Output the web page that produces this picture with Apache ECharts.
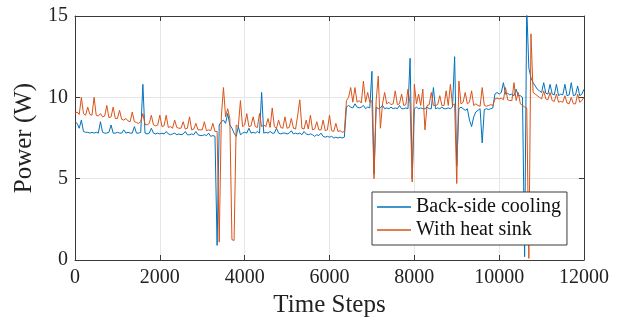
<!DOCTYPE html>
<html>
<head>
<meta charset="utf-8">
<script src="https://cdn.jsdelivr.net/npm/echarts@6/dist/echarts.min.js"></script>
<style>html,body{margin:0;padding:0;background:#fff}#c{width:626px;height:327px}</style>
</head>
<body>
<div id="c"></div>
<script>
// sample spacing in time steps
const STEP = 50;
const xTicks = [0, 2000, 4000, 6000, 8000, 10000, 12000];
const yTicks = [0, 5, 10, 15];
const seriesNames = ["Back-side cooling", "With heat sink"];

// Back-side cooling power (W), one value every STEP time steps
const backSideCooling = [
  8.5, 8.4, 8.1, 8.6, 7.9, 7.85, 7.85, 7.8, 7.85, 7.8,
  7.85, 7.8, 8.5, 7.85, 7.8, 7.8, 7.85, 8.3, 7.8, 7.8,
  7.85, 7.8, 7.8, 8.0, 7.8, 7.85, 7.8, 7.8, 8.2, 7.8,
  7.8, 7.85, 10.8, 7.8, 7.75, 7.8, 8.1, 7.8, 7.75, 7.8,
  7.75, 7.8, 7.75, 7.9, 7.75, 7.7, 7.75, 7.8, 7.7, 7.75,
  7.7, 7.75, 7.9, 7.7, 7.7, 7.75, 7.7, 7.9, 7.7, 7.65,
  7.65, 7.7, 7.65, 7.8, 7.6, 7.65, 7.6, 0.9, 8.3, 8.5,
  8.6, 8.4, 9.0, 8.3, 8.1, 7.8, 7.6, 8.2, 7.7, 7.8,
  7.85, 7.8, 8.1, 7.8, 7.85, 7.8, 7.9, 7.8, 10.3, 7.8,
  7.85, 7.8, 7.9, 7.8, 7.8, 8.1, 7.8, 7.75, 7.8, 7.8,
  7.75, 7.8, 7.95, 7.75, 7.8, 7.75, 7.8, 7.7, 7.9, 7.75,
  7.7, 7.75, 7.7, 7.6, 7.7, 7.65, 7.8, 7.6, 7.55, 7.6,
  7.55, 7.6, 7.5, 7.55, 7.5, 7.55, 7.5, 7.55, 9.4, 9.5,
  9.4, 9.35, 9.6, 9.4, 9.35, 9.4, 9.5, 9.3, 9.4, 9.35,
  11.6, 5.3, 9.4, 9.3, 9.35, 9.5, 9.3, 9.35, 9.3, 9.4,
  9.3, 9.35, 9.3, 9.5, 9.3, 9.3, 9.35, 9.3, 12.4, 5.0,
  9.3, 9.4, 9.3, 9.35, 9.3, 9.3, 9.4, 9.3, 9.3, 10.6,
  9.3, 9.35, 9.3, 9.4, 9.3, 9.3, 9.35, 9.3, 9.4, 12.5,
  5.8, 9.3, 9.4, 9.3, 9.2, 9.3, 8.6, 8.2, 8.8, 9.1,
  9.2, 9.3, 7.2, 9.25, 9.3, 9.25, 9.3, 9.35, 10.2, 10.3,
  10.2, 10.3, 10.9, 10.2, 10.25, 10.15, 10.2, 10.1, 10.5, 10.1,
  10.1, 10.0, 0.2, 15.5, 11.8, 11.2, 10.9, 10.7, 10.5, 10.4,
  10.3, 10.9, 10.25, 10.2, 10.8, 10.2, 10.15, 10.8, 10.1, 10.2,
  10.15, 10.8, 10.1, 10.15, 10.9, 10.1, 10.15, 10.7, 10.1, 10.2, 10.5
];

// With heat sink power (W), one value every STEP time steps
const withHeatSink = [
  9.0, 9.1, 8.95, 10.0, 9.0, 8.9, 9.4, 8.95, 8.9, 10.0,
  8.9, 8.85, 9.0, 8.8, 8.85, 9.5, 8.75, 8.8, 9.4, 8.7,
  8.7, 9.2, 8.65, 8.6, 8.7, 8.55, 8.5, 9.1, 8.5, 8.45,
  8.4, 8.5, 9.0, 8.35, 8.3, 8.4, 8.9, 8.3, 8.25, 8.3,
  8.9, 8.2, 8.25, 8.9, 8.15, 8.2, 8.1, 8.6, 8.15, 8.1,
  8.1, 8.5, 8.05, 8.1, 8.8, 8.0, 8.05, 8.4, 8.0, 8.0,
  8.0, 8.5, 7.95, 8.0, 7.95, 8.4, 7.9, 7.9, 1.1, 8.8,
  10.6, 8.8, 9.3, 8.7, 1.25, 1.2, 8.3, 8.2, 9.8, 8.2,
  8.3, 9.0, 8.2, 8.25, 8.8, 8.2, 8.15, 9.0, 8.2, 8.3,
  8.2, 8.7, 8.15, 9.35, 8.2, 8.1, 8.6, 8.15, 8.1, 8.8,
  8.1, 8.15, 8.7, 8.1, 8.05, 8.9, 9.85, 8.1, 8.05, 8.6,
  8.05, 8.9, 8.0, 8.05, 8.5, 8.0, 8.0, 8.6, 7.95, 8.0,
  8.9, 7.95, 7.9, 8.4, 7.9, 7.95, 7.85, 7.9, 9.8, 10.0,
  10.6, 9.7, 10.6, 9.7, 9.8, 9.65, 11.0, 9.7, 10.3, 9.7,
  9.8, 5.0, 9.8, 11.3, 8.1, 9.6, 10.3, 9.6, 9.7, 9.55,
  9.6, 10.4, 9.55, 9.6, 10.2, 9.5, 9.55, 10.5, 9.6, 4.8,
  10.8, 9.6, 10.2, 9.5, 10.5, 8.0, 9.5, 9.55, 10.3, 9.5,
  9.5, 9.55, 10.1, 9.5, 9.5, 10.4, 9.5, 10.8, 9.5, 9.6,
  4.7, 11.0, 9.6, 9.7, 10.3, 9.6, 9.7, 10.4, 9.5, 9.6,
  9.5, 9.45, 10.6, 9.5, 9.45, 9.5, 9.55, 9.5, 9.9, 9.95,
  9.9, 9.95, 9.85, 10.6, 9.85, 9.8, 9.8, 10.9, 9.8, 10.3,
  9.6, 9.5, 9.4, 9.35, 0.1, 13.9, 10.3, 10.2, 10.1, 10.0,
  9.9, 10.4, 9.9, 9.85, 10.3, 9.8, 9.75, 10.2, 9.7, 9.75,
  9.7, 10.1, 9.65, 9.6, 10.0, 9.6, 9.6, 10.2, 9.7, 9.8, 10.0
];

const FONT = "'Liberation Serif', 'DejaVu Serif', serif";
const toPairs = arr => arr.map((v, i) => [i * STEP, v]);

const xMin = xTicks[0], xMax = xTicks[xTicks.length - 1], xInt = xTicks[1] - xTicks[0];
const yMin = yTicks[0], yMax = yTicks[yTicks.length - 1], yInt = yTicks[1] - yTicks[0];

const axisCol = '#3a3a3a';
const gridCol = '#e6e6e6';

const chart = echarts.init(document.getElementById('c'), null, {renderer: 'canvas'});
chart.setOption({
  animation: false,
  backgroundColor: '#fff',
  grid: {left: 75, right: 42, top: 16, bottom: 67, containLabel: false},
  legend: {
    show: true,
    data: seriesNames,
    orient: 'vertical',
    left: 372, top: 192,
    padding: [5, 6, 5, 5],
    itemGap: 3,
    itemWidth: 34, itemHeight: 1.5,
    icon: 'rect',
    backgroundColor: '#fff',
    borderColor: '#3a3a3a', borderWidth: 1,
    textStyle: {fontFamily: FONT, fontSize: 20, color: '#111', lineHeight: 20}
  },
  xAxis: [{
    type: 'value', min: xMin, max: xMax, interval: xInt,
    name: 'Time Steps', nameLocation: 'middle', nameGap: 33,
    nameTextStyle: {fontFamily: FONT, fontSize: 25, color: '#222'},
    axisLine: {show: true, onZero: false, lineStyle: {color: axisCol, width: 1}},
    axisTick: {show: true, inside: true, length: 5, lineStyle: {color: axisCol}},
    axisLabel: {fontFamily: FONT, fontSize: 20, color: '#222', margin: 8, formatter: v => String(v)},
    splitLine: {show: true, lineStyle: {color: gridCol, width: 1}}
  }, {
    type: 'value', min: xMin, max: xMax, interval: xInt, position: 'top',
    axisLine: {show: true, onZero: false, lineStyle: {color: axisCol, width: 1}},
    axisTick: {show: true, inside: true, length: 5, lineStyle: {color: axisCol}},
    axisLabel: {show: false}, splitLine: {show: false}
  }],
  yAxis: [{
    type: 'value', min: yMin, max: yMax, interval: yInt,
    name: 'Power (W)', nameLocation: 'middle', nameGap: 35,
    nameTextStyle: {fontFamily: FONT, fontSize: 25, color: '#222'},
    axisLine: {show: true, onZero: false, lineStyle: {color: axisCol, width: 1}},
    axisTick: {show: true, inside: true, length: 5, lineStyle: {color: axisCol}},
    axisLabel: {fontFamily: FONT, fontSize: 20, color: '#222', margin: 7, formatter: v => String(v)},
    splitLine: {show: true, lineStyle: {color: gridCol, width: 1}}
  }, {
    type: 'value', min: yMin, max: yMax, interval: yInt, position: 'right',
    axisLine: {show: true, onZero: false, lineStyle: {color: axisCol, width: 1}},
    axisTick: {show: true, inside: true, length: 5, lineStyle: {color: axisCol}},
    axisLabel: {show: false}, splitLine: {show: false}
  }],
  series: [{
    name: seriesNames[0], type: 'line', data: toPairs(backSideCooling),
    xAxisIndex: 0, yAxisIndex: 0,
    showSymbol: false, symbol: 'none', clip: true,
    color: '#0072BD', lineStyle: {color: '#0072BD', width: 1}
  }, {
    name: seriesNames[1], type: 'line', data: toPairs(withHeatSink),
    xAxisIndex: 0, yAxisIndex: 0,
    showSymbol: false, symbol: 'none', clip: true,
    color: '#D95319', lineStyle: {color: '#D95319', width: 1}
  }]
});
</script>
</body>
</html>
